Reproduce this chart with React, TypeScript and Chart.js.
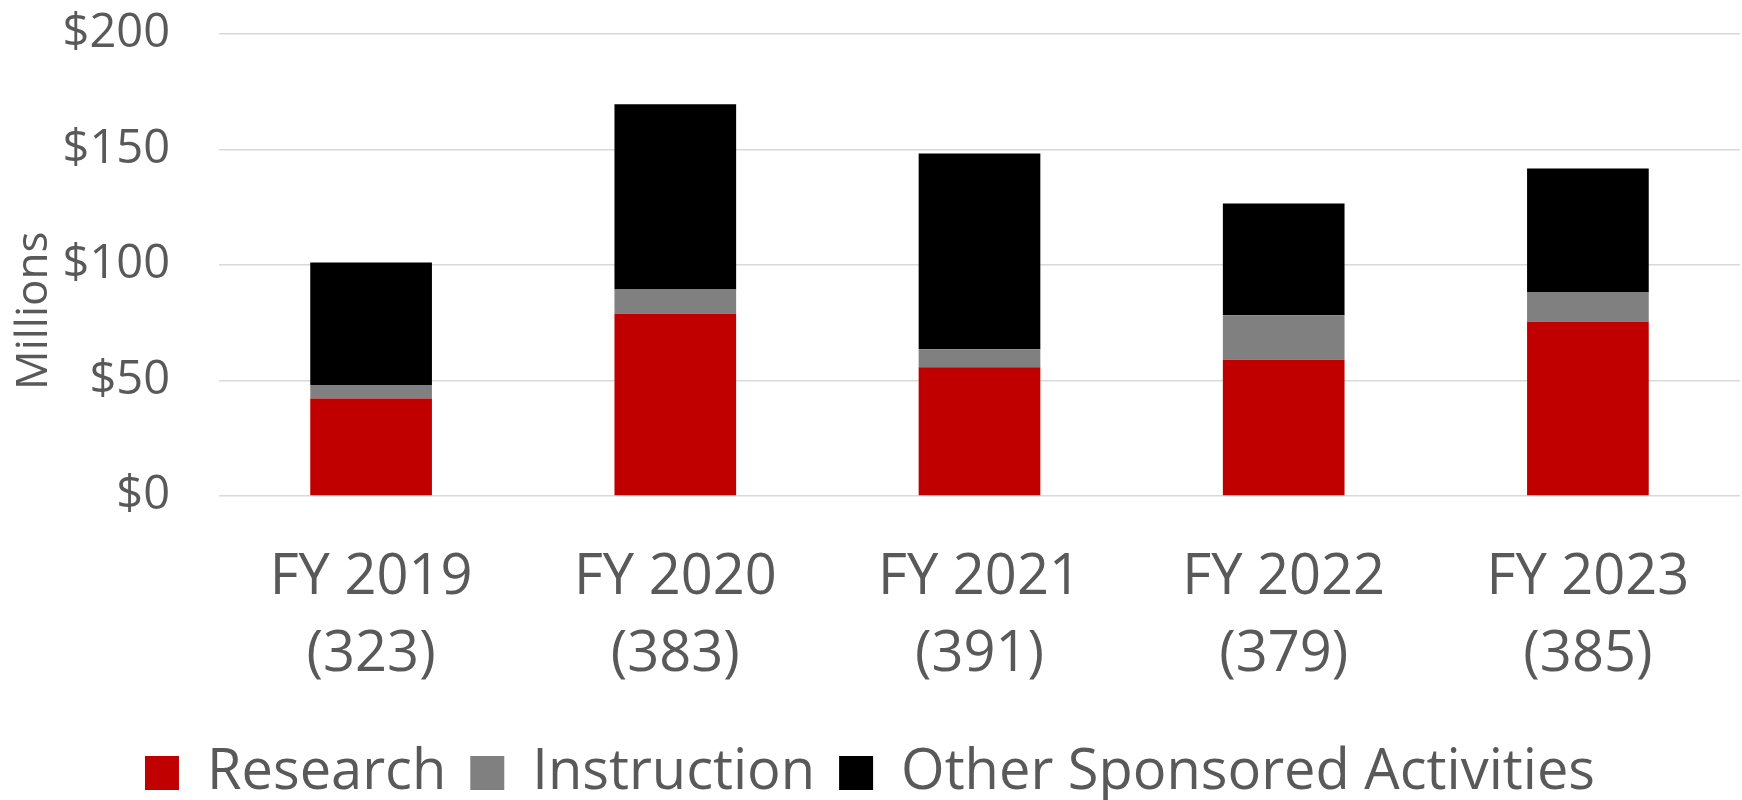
import React, { useEffect, useRef } from "react";
import { Chart, registerables } from "chart.js";

Chart.register(...registerables);

const categories: string[][] = [
  ["FY 2019", "(323)"],
  ["FY 2020", "(383)"],
  ["FY 2021", "(391)"],
  ["FY 2022", "(379)"],
  ["FY 2023", "(385)"],
];
const research = [42.2, 78.9, 55.7, 59.0, 75.4];
const instruction = [5.8, 10.5, 7.8, 19.2, 12.7];
const otherSponsored = [53.1, 80.2, 84.8, 48.4, 53.7];
const yTicks = [0, 50, 100, 150, 200];

const FONT = "'Open Sans', 'DejaVu Sans', sans-serif";
const TEXT = "#595959";

export default function App() {
  const ref = useRef<HTMLCanvasElement | null>(null);
  useEffect(() => {
    if (!ref.current) return;
    const chart = new Chart(ref.current, {
      type: "bar",
      data: {
        labels: categories,
        datasets: [
          { label: "Research", data: research, backgroundColor: "#C00000", borderWidth: 0 },
          { label: "Instruction", data: instruction, backgroundColor: "#808080", borderWidth: 0 },
          { label: "Other Sponsored Activities", data: otherSponsored, backgroundColor: "#000000", borderWidth: 0 },
        ],
      },
      options: {
        responsive: false,
        animation: false,
        layout: { padding: { left: 0, top: 34, right: 2, bottom: -11 } },
        datasets: { bar: { categoryPercentage: 1, barPercentage: 0.4 } },
        plugins: {
          tooltip: { enabled: false },
          legend: {
            position: "bottom",
            labels: {
              boxWidth: 34,
              boxHeight: 34,
              padding: 24,
              color: TEXT,
              font: { family: FONT, size: 56 },
            },
          },
        },
        scales: {
          x: {
            stacked: true,
            grid: { display: false, drawTicks: false },
            border: { display: false },
            ticks: {
              color: TEXT,
              font: { family: FONT, size: 56, lineHeight: 1.375 },
              padding: 44,
              maxRotation: 0,
              autoSkip: false,
            },
            afterFit: (s: any) => { s.height = 225; },
          },
          y: {
            stacked: true,
            min: yTicks[0],
            max: yTicks[yTicks.length - 1],
            grid: { color: "#d9d9d9", lineWidth: 1.5, drawTicks: false },
            border: { display: false },
            afterBuildTicks: (s: any) => { s.ticks = yTicks.map((v) => ({ value: v })); },
            ticks: {
              color: TEXT,
              font: { family: FONT, size: 47 },
              padding: 49,
              callback: (v: any) => "$" + v,
            },
            title: {
              display: true,
              text: "Millions" + "\u00A0".repeat(8),
              color: TEXT,
              font: { family: FONT, size: 44 },
              padding: { top: 8, bottom: 0 },
            },
            afterFit: (s: any) => {
              s.width = 219;
              s.paddingTop = 20;
              s.paddingBottom = 20;
            },
          },
        },
      },
    });
    return () => chart.destroy();
  }, []);
  return (
    <div style={{ position: "absolute", left: 0, top: 0, width: 1742, height: 800 }}>
      <canvas ref={ref} width={1742} height={800} style={{ display: "block" }} />
    </div>
  );
}
